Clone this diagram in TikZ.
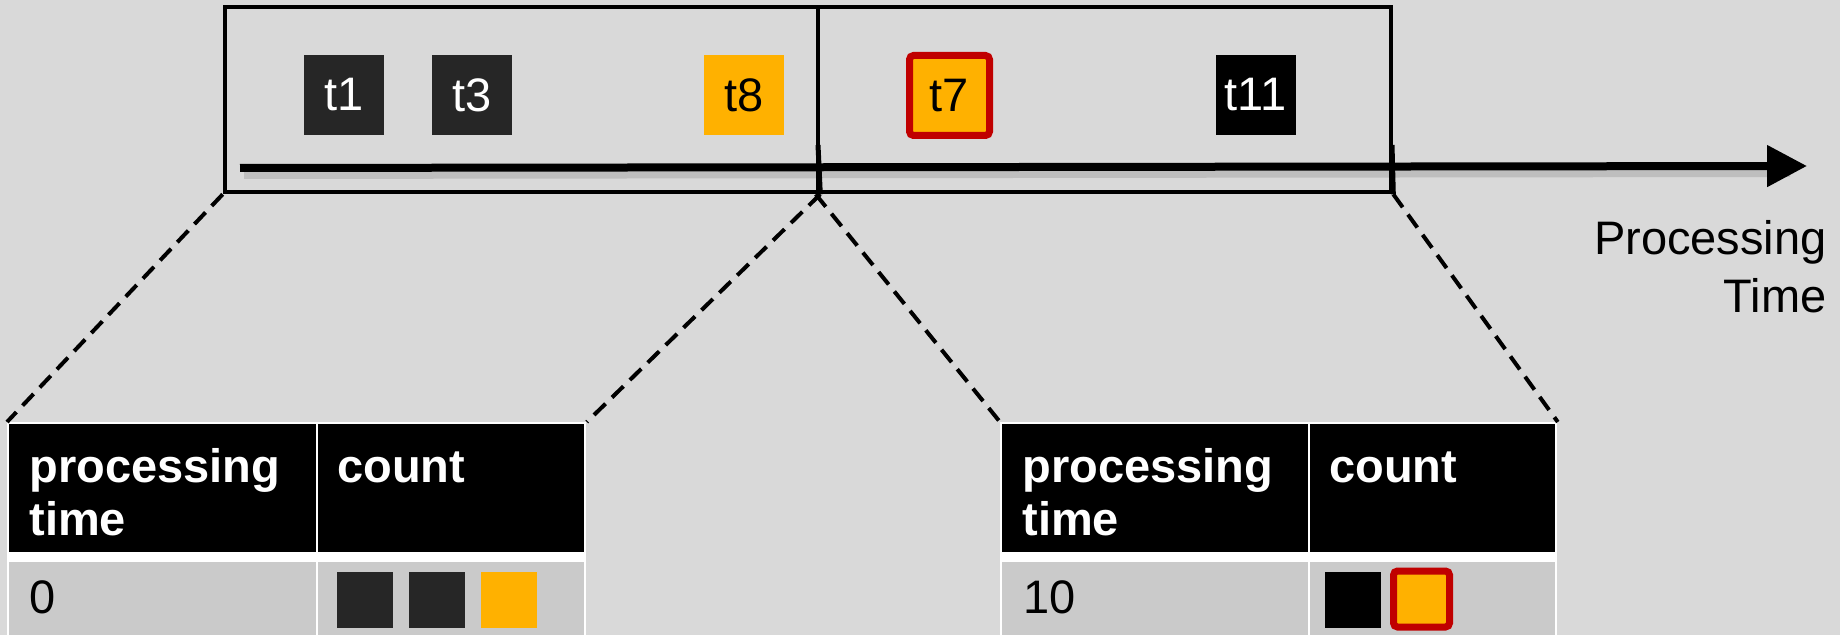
\documentclass[tikz,border=0pt]{standalone}
\usepackage{fontspec}
\setmainfont{Liberation Sans}
\usetikzlibrary{arrows.meta}
\definecolor{bggray}{HTML}{D9D9D9}
\definecolor{tokdark}{HTML}{262626}
\definecolor{tokorange}{HTML}{FFB100}
\definecolor{latered}{HTML}{C00000}
\definecolor{rowgray}{HTML}{CACACA}
\begin{document}
\begin{tikzpicture}[x=0.5pt,y=-0.5pt,
  font=\fontsize{23.5}{29}\selectfont,
  window/.style={draw=black, line width=2.3pt, inner sep=0pt},
  token/.style={minimum width=40pt, minimum height=40pt, inner sep=0pt},
  darktok/.style={token, fill=tokdark, text=white},
  blacktok/.style={token, fill=black, text=white},
  orangetok/.style={token, fill=tokorange, text=black},
  latetok/.style={token, fill=tokorange, text=black, draw=latered, line width=3.5pt, rounded corners=2pt},
  swatch/.style={minimum width=28pt, minimum height=28pt, inner sep=0pt},
  lateswatch/.style={swatch, fill=tokorange, draw=latered, line width=3.5pt, rounded corners=2pt},
  tickmark/.style={line width=2.5pt},
  zoomline/.style={line width=2pt, dash pattern=on 8pt off 4.5pt},
  tableback/.style={fill=white, anchor=north west, inner sep=0pt},
  headcell/.style={fill=black, anchor=north west, inner sep=0pt, minimum height=64pt},
  rowcell/.style={fill=rowgray, anchor=north west, inner sep=0pt, minimum height=40pt},
  headtext/.style={anchor=base west, inner sep=0pt, text=white, font=\fontsize{23.5}{29}\selectfont\bfseries},
  celltext/.style={anchor=base west, inner sep=0pt, text=black},
]
% canvas
\fill[bggray] (0,0) rectangle (1840,635);
\useasboundingbox (0,0) rectangle (1840,635);

% windows over the time axis
\node[window, minimum width=296.5pt, minimum height=92.5pt] (win1) at (521.5,99.5) {};
\node[window, minimum width=286.5pt, minimum height=92.5pt] (win2) at (1104.5,99.5) {};

% processing-time axis with its soft shadow
\coordinate (axA) at (240,168);
\coordinate (axB) at (1807,166);
\draw[line width=5pt, black, opacity=0.12] (244,174) -- (1790,172);
\draw[line width=4pt, -{Triangle[length=20pt, width=20pt]}] (axA) -- (axB);

% window boundaries on the axis
\coordinate (tk1) at (818,145);
\coordinate (tk2) at (1392,145);
\draw[tickmark] (tk1) -- (win1.south east);
\draw[tickmark] (tk2) -- (win2.south east);

% elements
\node[darktok] (t1) at (344,95) {t1};
\node[darktok] (t3) at (472,95) {t3};
\node[orangetok] (t8) at (744,95) {t8};
\node[latetok] (t7) at (949.5,95.5) {t7};
\node[blacktok] (t11) at (1255.5,95) {t11};

\node[anchor=base east, inner sep=0pt] (ptl1) at (1827,255) {Processing};
\node[anchor=base east, inner sep=0pt] (ptl2) at (1827,313) {Time};

% result table for the first window
\node[tableback, minimum width=289.5pt, minimum height=112pt] (tab1) at (7,422) {};
\node[headcell, minimum width=153.5pt] (hA1) at (9,424) {};
\node[headcell, minimum width=133pt] (hB1) at (318,424) {};
\node[rowcell, minimum width=153.5pt] (rA1) at (9,562) {};
\node[rowcell, minimum width=133pt] (rB1) at (318,562) {};
\node[headtext] (h1a) at (29,482) {processing};
\node[headtext] (h1b) at (29,535) {time};
\node[headtext] (h1c) at (337,482) {count};
\node[celltext] (v1) at (29,613) {0};
\node[swatch, fill=tokdark] (s1) at (365,599.5) {};
\node[swatch, fill=tokdark] (s2) at (437,599.5) {};
\node[swatch, fill=tokorange] (s3) at (509,599.5) {};

% result table for the second window
\node[tableback, minimum width=278.5pt, minimum height=112pt] (tab2) at (1000,422) {};
\node[headcell, minimum width=153pt] (hA2) at (1002,424) {};
\node[headcell, minimum width=122.5pt] (hB2) at (1310,424) {};
\node[rowcell, minimum width=153pt] (rA2) at (1002,562) {};
\node[rowcell, minimum width=122.5pt] (rB2) at (1310,562) {};
\node[headtext] (h2a) at (1022,482) {processing};
\node[headtext] (h2b) at (1022,535) {time};
\node[headtext] (h2c) at (1329,482) {count};
\node[celltext] (v2) at (1023,613) {10};
\node[swatch, fill=black] (s4) at (1352.5,599.5) {};
\node[lateswatch] (s5) at (1421.5,599) {};

% zoom lines from windows to their tables
\draw[zoomline] (win1.south west) -- (tab1.north west);
\draw[zoomline] (win1.south east) -- (tab1.north east);
\draw[zoomline] (win2.south west) -- (tab2.north west);
\draw[zoomline] (win2.south east) -- (tab2.north east);
\end{tikzpicture}
\end{document}
